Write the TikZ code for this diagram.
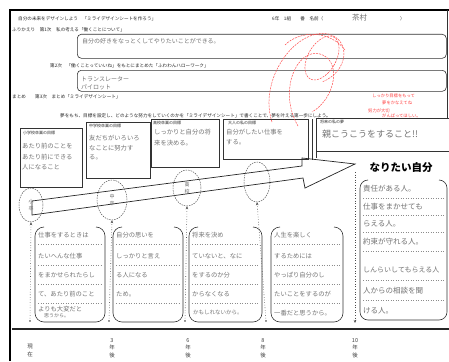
\documentclass[tikz,border=0pt]{standalone}
\usepackage{fontspec}
\setmainfont{Noto Sans CJK JP}
\usetikzlibrary{arrows.meta,shapes.geometric}
\begin{document}
\begin{tikzpicture}[x=1pt,y=-1pt,
  prt/.style={font=\fontsize{4.6}{5.5}\selectfont, text=black!85, inner sep=0pt, anchor=west},
  hw/.style={font=\fontsize{6.3}{7.5}\selectfont, text=black!55, inner sep=0pt, anchor=west},
  hwl/.style={font=\fontsize{7.5}{9}\selectfont, text=black!55, inner sep=0pt, anchor=west},
  box/.style={draw=black!80, line width=0.6pt},
  sep/.style={draw=black!45, dotted, line width=0.5pt},
  tline/.style={draw=black!70, dotted, line width=0.6pt, -{Stealth[length=3pt,width=2.5pt]}},
  circ/.style={draw=black!70, dash pattern=on 1.5pt off 1pt, line width=0.45pt, ellipse, inner sep=0pt},
  redink/.style={draw=red!70, dash pattern=on 2pt off 1pt, line width=0.5pt},
  redtxt/.style={font=\fontsize{4.3}{5}\selectfont, text=red!75, inner sep=0pt, anchor=west},
  vlab/.style={font=\fontsize{5.5}{6}\selectfont, text=black!75, inner sep=0pt, anchor=north, align=center},
  ctext/.style={font=\fontsize{5}{5.5}\selectfont, text=black!60, inner sep=0pt, align=center}]
\useasboundingbox (0,0) rectangle (449,361);
\fill[white] (0,0) rectangle (449,361);
% page frame from the scan
\draw[line width=1.6pt, black] (10,361) -- (10,10) -- (449,10);
\draw[line width=1pt, black!80] (447.5,10) -- (447.5,118);

% header
\node[prt] (title) at (18,19) {自分の未来をデザインしよう　「ミライデザインシートを作ろう」};
\node[prt] (grade) at (272,19) {6年　1組　　番　名前（};
\node[hwl] (name) at (352,18) {茶村};
\node[prt] (paren) at (400,19) {）};

% review 1
\node[prt] (fur) at (12,30) {ふりかえり　第1次　私の考える「働くことについて」};
\node[box, rounded corners=4pt, minimum width=369pt, minimum height=24pt, anchor=north west] (b1) at (77,34) {};
\node[hw, font=\fontsize{6}{7}\selectfont] (b1t) at (82,41) {自分の好きをなっとくしてやりたいことができる。};

% review 2
\node[prt] (d2) at (50,66) {第2次　「働くことっていいね」をもとにまとめた「ふわわんハローワーク」};
\node[box, rounded corners=4pt, minimum width=369pt, minimum height=21pt, anchor=north west] (b2) at (77,70) {};
\node[hw, font=\fontsize{6}{7}\selectfont] (b2a) at (81,79) {トランスレーター};
\node[hw, font=\fontsize{6}{7}\selectfont] (b2b) at (81,87) {パイロット};

% summary
\node[prt] (mat) at (12,97) {まとめ　　第3次　まとめ「ミライデザインシート」};
\node[prt] (yume) at (60,116) {夢をもち、目標を設定し、どのような努力をしていくのかを「ミライデザインシート」で書くことで、夢を叶える第一歩にしよう。};

% goal boxes
\node[box, minimum width=62pt, minimum height=59pt, anchor=north west] (g1) at (20,128) {};
\node[prt, font=\fontsize{4}{5}\selectfont] (g1l) at (23,133) {小学校卒業の目標};
\node[hw] (g1a) at (22,146) {あたり前のことを};
\node[hw] (g1b) at (22,157) {あたり前にできる};
\node[hw] (g1c) at (22,167) {人になること};

\node[box, minimum width=64pt, minimum height=56pt, anchor=north west] (g2) at (86,122) {};
\node[prt, font=\fontsize{4}{5}\selectfont] (g2l) at (89,126) {中学校卒業の目標};
\node[hw] (g2a) at (89,138) {友だちがいろいろ};
\node[hw] (g2b) at (89,148) {なことに努力す};
\node[hw] (g2c) at (89,157) {る。};

\node[box, minimum width=68pt, minimum height=48pt, anchor=north west] (g3) at (151,119) {};
\node[prt, font=\fontsize{4}{5}\selectfont] (g3l) at (153,123) {高校卒業の目標};
\node[hw] (g3a) at (154,132) {しっかりと自分の将};
\node[hw] (g3b) at (154,143) {来を決める。};

\node[box, minimum width=85pt, minimum height=40pt, anchor=north west] (g4) at (223,119) {};
\node[prt, font=\fontsize{4}{5}\selectfont] (g4l) at (228,123) {大人の私の目標};
\node[hw] (g4a) at (226,132) {自分がしたい仕事を};
\node[hw] (g4b) at (226,142) {する。};

\draw[box] (312,119) -- (312,160);
\draw[box] (316.5,118) -- (316.5,158);
\draw[box] (316.5,118) -- (449,118);
\draw[box] (316.5,151) -- (449,151);
\node[prt, font=\fontsize{4}{5}\selectfont] (g5l) at (320,122) {将来の私の夢};
\node[hw, font=\fontsize{9}{10}\selectfont] (g5a) at (322,134) {親こうこうをすること!!};

% big arrow
\coordinate (aUL) at (32,201);
\coordinate (aUR) at (302,166);
\coordinate (aBU) at (302,158);
\coordinate (tip) at (355,164);
\coordinate (aBL) at (305,188);
\coordinate (aLR) at (303,178);
\coordinate (aLL) at (32,215);
\draw[line width=0.7pt, black!85, line join=miter] (aUL) -- (aUR) -- (aBU) -- (tip) -- (aBL) -- (aLR) -- (aLL) -- cycle;

% milestone circles
\node[circ, minimum width=24pt, minimum height=34pt] (c1) at (31,205) {};
\node[circ, minimum width=30pt, minimum height=40pt] (c2) at (112,200) {};
\node[circ, minimum width=28pt, minimum height=36pt] (c3) at (187,188) {};
\node[circ, minimum width=26pt, minimum height=40pt] (c4) at (257,182) {};
\node[ctext] (c1t) at (c1) {\shortstack{小\\卒}};
\node[ctext] (c2t) at (c2) {\shortstack{中\\卒}};
\node[ctext] (c3t) at (c3) {\shortstack{高\\校}};

% goal heading
\node[font=\fontsize{10.5}{12}\selectfont\bfseries, text=black, inner sep=0pt] (nari) at (401,168) {なりたい自分};

% right box
\coordinate (rb1) at (368,180);
\coordinate (rb2) at (439,180);
\draw[box, rounded corners=8pt] (rb1) -- (360,180) -- (360,320) -- (447,320) -- (447,180) -- (rb2);
\foreach \yy in {198,215,232,251,280,300}{\draw[sep] (363,\yy) -- (444,\yy);}
\node[hwl] (r1) at (363,189) {責任がある人。};
\node[hwl] (r2) at (363,207) {仕事をまかせても};
\node[hwl] (r3) at (363,224) {らえる人。};
\node[hwl] (r4) at (363,242) {約束が守れる人。};
\node[hw, font=\fontsize{7}{8}\selectfont] (r5) at (363,270) {しんらいしてもらえる人};
\node[hwl] (r6) at (363,291) {人からの相談を聞};
\node[hwl] (r7) at (363,311) {ける人。};

% bottom boxes
\def\openbox#1#2{\draw[box, rounded corners=9pt] (#1+9,227) -- (#1,227) -- (#1,322) -- (#2,322) -- (#2,227) -- (#2-9,227);
  \foreach \yy in {244,265,284,303}{\draw[sep] (#1+3,\yy) -- (#2-3,\yy);}}
\openbox{35}{105}
\openbox{113}{183}
\openbox{189}{262}
\openbox{271}{343}
\coordinate (bA) at (35,227);
\node[hw] (a1) at (38,235) {仕事をするときは};
\node[hw] (a2) at (38,256) {たいへんな仕事};
\node[hw] (a3) at (38,275) {をまかせられたらし};
\node[hw] (a4) at (38,294) {て、あたり前のこと};
\node[hw] (a5) at (38,309) {よりも大変だと};
\node[hw, font=\fontsize{5}{6}\selectfont] (a6) at (44,316) {思うから。};
\node[hw] (bb1) at (116,235) {自分の思いを};
\node[hw] (bb2) at (116,256) {しっかりと言え};
\node[hw] (bb3) at (116,275) {る人になる};
\node[hw] (bb4) at (116,294) {ため。};
\node[hw] (cc1) at (192,235) {将来を決め};
\node[hw] (cc2) at (192,256) {ていないと、なに};
\node[hw] (cc3) at (192,275) {をするのか分};
\node[hw] (cc4) at (192,294) {からなくなる};
\node[hw, font=\fontsize{5.5}{6}\selectfont] (cc5) at (193,312) {かもしれないから。};
\node[hw] (dd1) at (274,235) {人生を楽しく};
\node[hw] (dd2) at (274,256) {するためには};
\node[hw] (dd3) at (274,275) {やっぱり自分のし};
\node[hw] (dd4) at (274,294) {たいことをするのが};
\node[hw] (dd5) at (274,313) {一番だと思うから。};

% timeline arrows
\coordinate (t1) at (30,321);
\coordinate (t2) at (109,321);
\coordinate (t3) at (185,321);
\coordinate (t4) at (266,321);
\coordinate (t5t) at (355,172);
\coordinate (t5) at (355,323);
\draw[tline] (t1) -- (c1.south);
\draw[tline] (t2) -- (c2.south);
\draw[tline] (t3) -- (c3.south);
\draw[tline] (t4) -- (c4.south);
\draw[tline] (t5t) -- (t5);
\foreach \p in {t1,t2,t3,t4}{\fill[black!70] (\p) circle (0.9pt);}

% bottom axis
\coordinate (axL) at (12,329);
\coordinate (axR) at (449,329);
\draw[line width=2.2pt, black!85] (axL) -- (axR);
\node[vlab] (l1) at (30,344) {\shortstack{現\\在}};
\node[vlab] (l2) at (112,338) {\shortstack{3\\年\\後}};
\node[vlab] (l3) at (188,338) {\shortstack{6\\年\\後}};
\node[vlab] (l4) at (263,338) {\shortstack{8\\年\\後}};
\node[vlab] (l5) at (355,338) {\shortstack{10\\年\\後}};

% teacher's red ink
\draw[redink] (272,122) .. controls (258,80) and (295,28) .. (328,34) .. controls (352,40) and (348,72) .. (322,82);
\draw[redink] (298,126) .. controls (278,92) and (296,48) .. (320,54) .. controls (342,60) and (336,98) .. (312,112);
\draw[redink, rotate around={-30:(322,58)}] (322,58) ellipse (14 and 24);
\draw[redink] (285,45) .. controls (300,30) and (330,30) .. (345,50);
\node[redtxt] (rt1) at (372,96) {しっかり目標をもって};
\node[redtxt] (rt2) at (382,103) {夢をかなえてね};
\node[redtxt] (rt3) at (368,111) {努力が大切};
\node[redtxt] (rt4) at (382,116) {がんばってほしい。};
\end{tikzpicture}
\end{document}
